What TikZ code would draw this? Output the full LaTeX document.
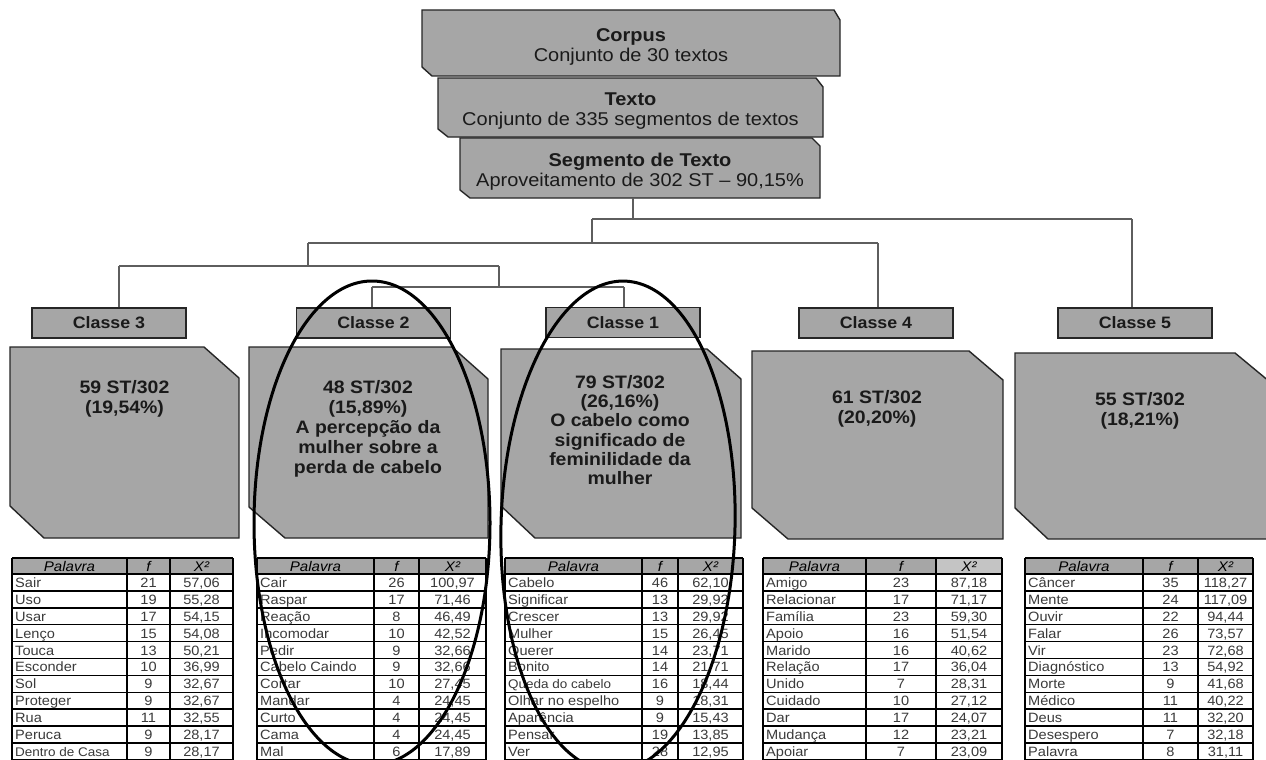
\documentclass[tikz,border=0pt]{standalone}
\usepackage{fontspec}
\setmainfont{Liberation Sans}[FakeStretch=1.08]
\usetikzlibrary{calc}
\definecolor{boxgray}{HTML}{A6A6A6}
\definecolor{hdrlight}{HTML}{C4C4C4}
\definecolor{linegray}{HTML}{5E5E5E}
\definecolor{edgecol}{HTML}{262626}
\definecolor{txt}{HTML}{1A1A1A}
\definecolor{celltxt}{HTML}{3A3A3A}
% chamfered box: x1,y1,x2,y2, top-right dx,dy, bottom-left dx,dy
\newcommand\chbox[8]{%
  \draw[bigshape] (#1,#2) -- (#3-#5,#2) -- (#3,#2+#6) -- (#3,#4) -- (#1+#7,#4) -- (#1,#4-#8) -- cycle;}
% table: name, L, C1, C2, R, third header fill, rows
\newcommand\wtable[7]{%
  \fill[boxgray] (#2,558) rectangle (#4,574);
  \fill[#6] (#4,558) rectangle (#5,574);
  \node[hdr] (#1-hw) at ({(#2+#3)/2},571) {Palavra};
  \node[hdr] (#1-hf) at ({(#3+#4)/2},571) {f};
  \node[hdr] (#1-hx) at ({(#4+#5)/2},571) {X²};
  \foreach \w/\f/\x [count=\i] in {#7} {
    \pgfmathsetmacro\yc{574+(\i-0.5)*16.9+5}
    \node[cell,anchor=base west] (#1-\i-w) at (#2+3,\yc) {\w};
    \node[cell] (#1-\i-f) at ({(#3+#4)/2},\yc) {\f};
    \node[cell] (#1-\i-x) at ({(#4+#5)/2},\yc) {\x};
  }
  \foreach \k in {0,...,11} {
    \pgfmathsetmacro\yl{574+\k*16.9}
    \draw[tgrid] (#2,\yl) -- (#5,\yl);
  }
  \draw[tgrid] (#2,558) -- (#5,558);
  \foreach \xx in {#2,#3,#4,#5} {\draw[tgrid] (\xx,558) -- (\xx,765);}
}
\begin{document}
\begin{tikzpicture}[x=1pt,y=-1pt,
  bigshape/.style={fill=boxgray,draw=edgecol,line width=1.4pt,line join=miter},
  classlabel/.style={draw=edgecol,fill=boxgray,line width=1.4pt,minimum width=154pt,minimum height=30pt,inner sep=0pt,font=\fontsize{16.5}{18}\selectfont\bfseries,text=txt},
  toptext/.style={align=center,anchor=north,inner sep=0pt,font=\fontsize{18.5}{20}\selectfont,text=txt},
  bigtext/.style={align=center,anchor=north,inner sep=0pt,font=\fontsize{18}{20}\selectfont\bfseries,text=txt},
  tree/.style={draw=linegray,line width=2pt},
  tgrid/.style={draw=black,line width=1.5pt},
  hdr/.style={inner sep=0pt,anchor=base,font=\fontsize{14}{16}\selectfont\itshape,text=black},
  cell/.style={inner sep=0pt,anchor=base,font=\fontsize{13.5}{15}\selectfont,text=celltxt},
  ell/.style={draw=black,line width=3pt}]
\useasboundingbox (0,0) rectangle (1266,760);
\clip (0,0) rectangle (1266,760);
\fill[white] (0,0) rectangle (1266,760);

% top stacked boxes
\chbox{422}{10}{840}{76}{6}{10}{10}{9}
\chbox{438}{78}{823}{137}{7}{9}{10}{8}
\chbox{460}{138}{820}{198}{8}{8}{10}{8}
\node[toptext] (corpus) at (631,28) {\textbf{Corpus}\\Conjunto de 30 textos};
\node[toptext] (texto) at (630.5,92.5) {\textbf{Texto}\\Conjunto de 335 segmentos de textos};
\node[toptext] (seg) at (640,152.5) {\textbf{Segmento de Texto}\\Aproveitamento de 302 ST -- 90,15\%};

% class labels
\node[classlabel] (k3) at (109,323) {Classe 3};
\node[classlabel] (k2) at (373.5,323) {Classe 2};
\node[classlabel] (k1) at (623,322.5) {Classe 1};
\node[classlabel] (k4) at (876,323) {Classe 4};
\node[classlabel] (k5) at (1135,323) {Classe 5};

% dendrogram
\coordinate (s0) at (633,198);
\coordinate (ja) at (633,219);
\coordinate (jb) at (592,219);
\coordinate (jc) at (1132,219);
\coordinate (jd) at (592,243);
\coordinate (je) at (308,243);
\coordinate (jf) at (878,243);
\coordinate (jg) at (308,266);
\coordinate (jh) at (119,266);
\coordinate (ji) at (499,266);
\coordinate (jj) at (499,287);
\coordinate (jk) at (372,287);
\coordinate (jl) at (624,287);
\draw[tree] (s0) -- (ja);
\draw[tree] (jb) -- (jc);
\draw[tree] (jc) -- (jc |- k5.north);
\draw[tree] (jb) -- (jd);
\draw[tree] (je) -- (jf);
\draw[tree] (jf) -- (jf |- k4.north);
\draw[tree] (je) -- (jg);
\draw[tree] (jh) -- (ji);
\draw[tree] (jh) -- (jh |- k3.north);
\draw[tree] (ji) -- (jj);
\draw[tree] (jk) -- (jl);
\draw[tree] (jk) -- (jk |- k2.north);
\draw[tree] (jl) -- (jl |- k1.north);

% big class boxes
\chbox{10}{347}{239}{538}{35}{31}{34}{32}
\chbox{249}{347}{488}{538}{36}{32}{36}{31}
\chbox{501}{349}{741}{538}{34}{30}{34}{32}
\chbox{752}{351}{1003}{539}{34}{29}{36}{31}
\chbox{1015}{353}{1270}{539}{35}{29}{33}{31}
\node[bigtext] (b3) at (124.5,380) {59 ST/302\\(19,54\%)};
\node[bigtext] (b2) at (368,380) {48 ST/302\\(15,89\%)\\A percepção da\\mulher sobre a\\perda de cabelo};
\node[bigtext,font=\fontsize{18}{19.3}\selectfont\bfseries] (b1) at (620,375) {79 ST/302\\(26,16\%)\\O cabelo como\\significado de\\feminilidade da\\mulher};
\node[bigtext] (b4) at (877,390) {61 ST/302\\(20,20\%)};
\node[bigtext] (b5) at (1140,392) {55 ST/302\\(18,21\%)};

% tables
\wtable{t3}{12}{127}{170}{233}{boxgray}{{Sair}/{21}/{57,06},{Uso}/{19}/{55,28},{Usar}/{17}/{54,15},{Lenço}/{15}/{54,08},{Touca}/{13}/{50,21},{Esconder}/{10}/{36,99},{Sol}/{9}/{32,67},{Proteger}/{9}/{32,67},{Rua}/{11}/{32,55},{Peruca}/{9}/{28,17},{\fontsize{12.5}{14}\selectfont Dentro de Casa}/{9}/{28,17}}
\wtable{t2}{257}{374}{419}{486}{boxgray}{{Cair}/{26}/{100,97},{Raspar}/{17}/{71,46},{Reação}/{8}/{46,49},{Incomodar}/{10}/{42,52},{Pedir}/{9}/{32,66},{Cabelo Caindo}/{9}/{32,66},{Cortar}/{10}/{27,45},{Mandar}/{4}/{24,45},{Curto}/{4}/{24,45},{Cama}/{4}/{24,45},{Mal}/{6}/{17,89}}
\wtable{t1}{505}{642}{678}{743}{boxgray}{{Cabelo}/{46}/{62,10},{Significar}/{13}/{29,92},{Crescer}/{13}/{29,92},{Mulher}/{15}/{26,45},{Querer}/{14}/{23,71},{Bonito}/{14}/{21,71},{\fontsize{12.5}{14}\selectfont Queda do cabelo}/{16}/{18,44},{Olhar no espelho}/{9}/{18,31},{Aparência}/{9}/{15,43},{Pensar}/{19}/{13,85},{Ver}/{28}/{12,95}}
\wtable{t4}{763}{866}{936}{1002}{hdrlight}{{Amigo}/{23}/{87,18},{Relacionar}/{17}/{71,17},{Família}/{23}/{59,30},{Apoio}/{16}/{51,54},{Marido}/{16}/{40,62},{Relação}/{17}/{36,04},{Unido}/{7}/{28,31},{Cuidado}/{10}/{27,12},{Dar}/{17}/{24,07},{Mudança}/{12}/{23,21},{Apoiar}/{7}/{23,09}}
\wtable{t5}{1025}{1143}{1198}{1253}{boxgray}{{Câncer}/{35}/{118,27},{Mente}/{24}/{117,09},{Ouvir}/{22}/{94,44},{Falar}/{26}/{73,57},{Vir}/{23}/{72,68},{Diagnóstico}/{13}/{54,92},{Morte}/{9}/{41,68},{Médico}/{11}/{40,22},{Deus}/{11}/{32,20},{Desespero}/{7\hspace{26pt}}/{32,18},{Palavra}/{8}/{31,11}}

% hand-drawn ellipses
\draw[ell] (372,523) ellipse [x radius=118pt, y radius=242pt];
\draw[ell,rotate around={-1.5:(618,526)}] (618,526) ellipse [x radius=117pt, y radius=245pt];
\end{tikzpicture}
\end{document}
